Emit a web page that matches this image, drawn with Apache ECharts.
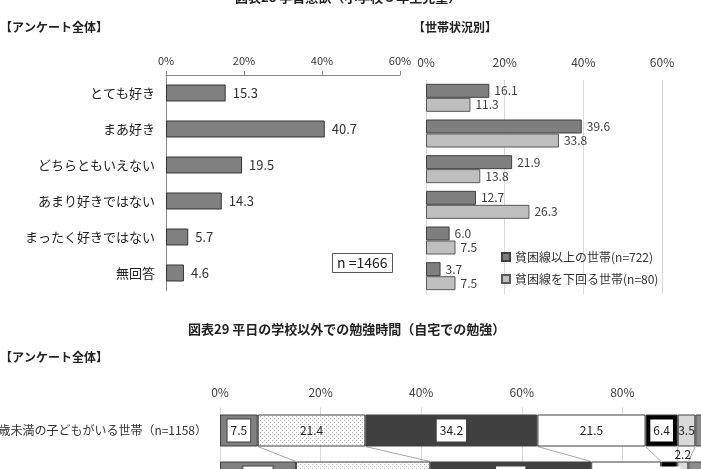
<!DOCTYPE html>
<html>
<head>
<meta charset="utf-8">
<script src="https://cdn.jsdelivr.net/npm/echarts@6/dist/echarts.min.js"></script>
<style>
  html, body { margin: 0; padding: 0; background: #fff; }
  #main { width: 701px; height: 469px; }
</style>
</head>
<body>
<div id="main"></div>
<script>
  // 図表28 学習意欲
  var likeCats = ['とても好き', 'まあ好き', 'どちらともいえない', 'あまり好きではない', 'まったく好きではない', '無回答'];
  var likeAll = [15.3, 40.7, 19.5, 14.3, 5.7, 4.6];
  var likeAbove = [16.1, 39.6, 21.9, 12.7, 6.0, 3.7]; // 貧困線以上の世帯
  var likeBelow = [11.3, 33.8, 13.8, 26.3, 7.5, 7.5]; // 貧困線を下回る世帯
  var likeTicks = [0, 20, 40, 60];

  // 図表29 勉強時間
  var studyRows = ['18歳未満の子どもがいる世帯（n=1158）', '貧困線を下回る世帯（n=80）'];
  var studyNames = ['まったくしない', '30分より少ない', '30分以上1時間より少ない', '1時間以上2時間より少ない', '2時間以上', 'わからない', '無回答'];
  var studyRow1 = [7.5, 21.4, 34.2, 21.5, 6.4, 3.5, 5.5];
  var studyRow2 = [15.1, 26.7, 32.0, 13.9, 3.2, 2.2, 6.9];
  var studyTicks = [0, 20, 40, 60, 80, 100];

  var FONT = 'Noto Sans CJK JP';
  var STUDY_BAR = 32;

  // 点模様（ドット）
  var dots = document.createElement('canvas');
  dots.width = 4; dots.height = 4;
  var dctx = dots.getContext('2d');
  dctx.fillStyle = '#ffffff'; dctx.fillRect(0, 0, 4, 4);
  dctx.fillStyle = '#b5b5b5'; dctx.fillRect(0, 0, 1, 1); dctx.fillRect(2, 2, 1, 1);

  var studyColors = ['#808080', { image: dots, repeat: 'repeat' }, '#404040', '#ffffff', '#000000', '#d9d9d9', '#8c8c8c'];
  var studyBox = [
    { backgroundColor: '#fff', borderColor: '#404040', borderWidth: 1 },
    {},
    { backgroundColor: '#fff', borderColor: '#404040', borderWidth: 1 },
    {},
    { backgroundColor: '#fff' },
    {},
    {}
  ];

  var myChart = echarts.init(document.getElementById('main'));

  var studySeries = studyNames.map(function (name, i) {
    return {
      name: name,
      type: 'bar',
      stack: 'study',
      xAxisIndex: 2,
      yAxisIndex: 2,
      barWidth: STUDY_BAR,
      itemStyle: { color: studyColors[i], borderColor: '#404040', borderWidth: 1 },
      label: Object.assign({
        show: true,
        position: 'inside',
        fontSize: 12,
        color: '#222',
        padding: [5, 3],
        formatter: function (p) { return p.value.toFixed(1); }
      }, studyBox[i]),
      data: [studyRow1[i], studyRow2[i]].map(function (v) {
        // 細い区分はラベルを上に出す
        if (v < 3) {
          return { value: v, label: { position: 'top', distance: 1, padding: 0, backgroundColor: 'transparent', borderWidth: 0 } };
        }
        return v;
      })
    };
  });

  // 区分の境界をつなぐ線
  var links = [];
  var c1 = 0, c2 = 0;
  for (var k = 0; k < studyRow1.length - 1; k++) {
    c1 += studyRow1[k];
    c2 += studyRow2[k];
    links.push([c1, c2, 0]);
  }

  myChart.setOption({
    animation: false,
    textStyle: { fontFamily: FONT },
    title: [
      { text: '図表28 学習意欲（小学校５年生児童）', left: 235, top: -9, padding: 0,
        textStyle: { fontSize: 13, fontWeight: 'bold', color: '#222' } },
      { text: '【アンケート全体】', left: 0, top: 21, padding: 0,
        textStyle: { fontSize: 12, fontWeight: 'bold', color: '#222' } },
      { text: '【世帯状況別】', left: 413, top: 21, padding: 0,
        textStyle: { fontSize: 12, fontWeight: 'bold', color: '#222' } },
      { text: 'n =1466', left: 332, top: 253, padding: [3, 5], borderColor: '#595959', borderWidth: 1,
        textStyle: { fontSize: 14, fontWeight: 'normal', color: '#222' } },
      { text: '図表29 平日の学校以外での勉強時間（自宅での勉強）', left: 188, top: 323, padding: 0,
        textStyle: { fontSize: 13, fontWeight: 'bold', color: '#222' } },
      { text: '【アンケート全体】', left: 0, top: 351, padding: 0,
        textStyle: { fontSize: 12, fontWeight: 'bold', color: '#222' } }
    ],
    legend: {
      data: ['貧困線以上の世帯(n=722)', '貧困線を下回る世帯(n=80)'],
      orient: 'vertical',
      left: 496,
      top: 246,
      itemWidth: 8,
      itemHeight: 8,
      itemGap: 10,
      icon: 'rect',
      textStyle: { fontSize: 12, color: '#333', fontFamily: FONT }
    },
    grid: [
      { left: 166, top: 75, width: 234, height: 216, outerBoundsMode: 'none' },
      { left: 426, top: 80, width: 236, height: 214, outerBoundsMode: 'none' },
      { left: 220, top: 407, width: 503, height: 94, outerBoundsMode: 'none' }
    ],
    xAxis: [
      {
        gridIndex: 0, type: 'value', position: 'top',
        min: likeTicks[0], max: likeTicks[likeTicks.length - 1], interval: 20,
        axisLine: { show: true, lineStyle: { color: '#888' } },
        axisTick: { show: true, length: 4, lineStyle: { color: '#888' } },
        splitLine: { show: false },
        axisLabel: { formatter: '{value}%', fontSize: 11, color: '#333', margin: 9 }
      },
      {
        gridIndex: 1, type: 'value', position: 'top',
        min: likeTicks[0], max: likeTicks[likeTicks.length - 1], interval: 20,
        axisLine: { show: false },
        axisTick: { show: false },
        splitLine: { show: true, lineStyle: { color: '#d9d9d9' } },
        axisLabel: { formatter: '{value}%', fontSize: 12, color: '#404040', margin: 12 }
      },
      {
        gridIndex: 2, type: 'value', position: 'top',
        min: studyTicks[0], max: studyTicks[studyTicks.length - 1], interval: 20,
        axisLine: { show: false },
        axisTick: { show: false },
        splitLine: { show: true, lineStyle: { color: '#d9d9d9' } },
        axisLabel: { formatter: '{value}%', fontSize: 12, color: '#404040', margin: 9 }
      }
    ],
    yAxis: [
      {
        gridIndex: 0, type: 'category', inverse: true, data: likeCats,
        axisLine: { show: true, lineStyle: { color: '#888' } },
        axisTick: { show: false },
        axisLabel: { fontSize: 13, color: '#222', margin: 11 }
      },
      {
        gridIndex: 1, type: 'category', inverse: true, data: likeCats,
        axisLine: { show: false },
        axisTick: { show: false },
        axisLabel: { show: false }
      },
      {
        gridIndex: 2, type: 'category', inverse: true, data: studyRows,
        axisLine: { show: false },
        axisTick: { show: false },
        axisLabel: { fontSize: 12, color: '#333', margin: 13 }
      }
    ],
    series: [
      {
        name: 'アンケート全体',
        type: 'bar',
        xAxisIndex: 0,
        yAxisIndex: 0,
        barWidth: 17,
        itemStyle: { color: '#808080', borderColor: '#333', borderWidth: 1 },
        label: {
          show: true, position: 'right', distance: 7, fontSize: 13, color: '#333',
          formatter: function (p) { return p.value.toFixed(1); }
        },
        data: likeAll
      },
      {
        name: '貧困線以上の世帯(n=722)',
        type: 'bar',
        xAxisIndex: 1,
        yAxisIndex: 1,
        barWidth: 14,
        barGap: '0%',
        itemStyle: { color: '#7f7f7f', borderColor: '#404040', borderWidth: 1 },
        label: {
          show: true, position: 'right', distance: 5, fontSize: 12, color: '#404040',
          formatter: function (p) { return p.value.toFixed(1); }
        },
        data: likeAbove
      },
      {
        name: '貧困線を下回る世帯(n=80)',
        type: 'bar',
        xAxisIndex: 1,
        yAxisIndex: 1,
        barWidth: 14,
        barGap: '0%',
        itemStyle: { color: '#bfbfbf', borderColor: '#595959', borderWidth: 1 },
        label: {
          show: true, position: 'right', distance: 5, fontSize: 12, color: '#404040',
          formatter: function (p) { return p.value.toFixed(1); }
        },
        data: likeBelow
      }
    ].concat(studySeries).concat([
      {
        type: 'custom',
        xAxisIndex: 2,
        yAxisIndex: 2,
        encode: { x: [0, 1], y: 2 },
        silent: true,
        z: 1,
        renderItem: function (params, api) {
          var a = api.coord([api.value(0), 0]);
          var b = api.coord([api.value(1), 1]);
          var half = STUDY_BAR / 2;
          return {
            type: 'line',
            shape: { x1: a[0], y1: a[1] + half, x2: b[0], y2: b[1] - half },
            style: { stroke: '#a6a6a6', lineWidth: 1 }
          };
        },
        data: links
      }
    ])
  });
</script>
</body>
</html>
